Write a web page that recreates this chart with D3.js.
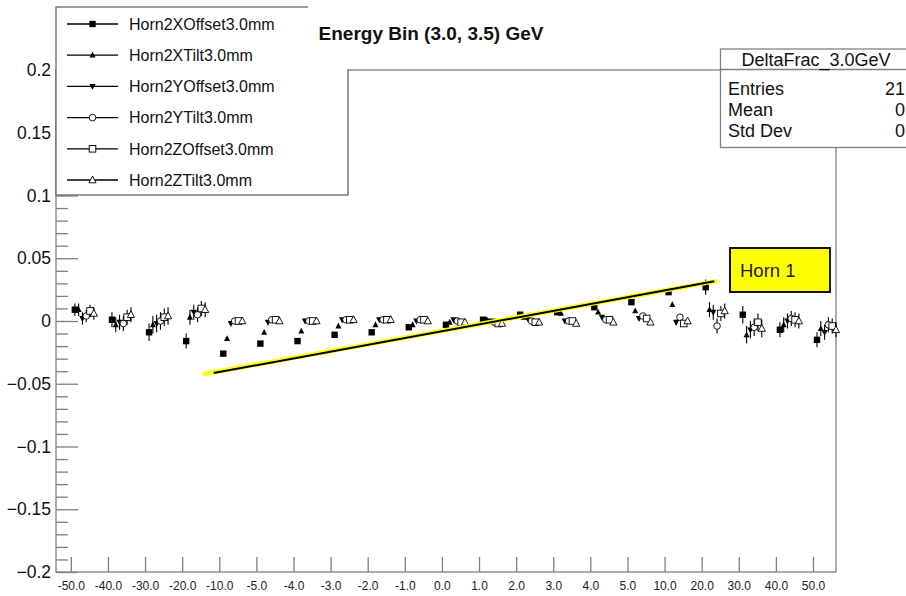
<!DOCTYPE html>
<html>
<head>
<meta charset="utf-8">
<script src="https://cdn.jsdelivr.net/npm/d3@7"></script>
<style>
  html, body { margin: 0; padding: 0; background: #fff; }
  svg { display: block; font-family: "Liberation Sans", Arial, Helvetica, sans-serif; }
</style>
</head>
<body>
<svg id="chart" width="906" height="596"></svg>
<script>
// Bin labels along the horizontal axis (shift values of the Horn 2 variations)
const categories = ["-50.0","-40.0","-30.0","-20.0","-10.0","-5.0","-4.0","-3.0","-2.0","-1.0",
                    "0.0","1.0","2.0","3.0","4.0","5.0","10.0","20.0","30.0","40.0","50.0"];

const seriesNames = ["Horn2XOffset3.0mm","Horn2XTilt3.0mm","Horn2YOffset3.0mm",
                     "Horn2YTilt3.0mm","Horn2ZOffset3.0mm","Horn2ZTilt3.0mm"];

// Fractional change per bin, one array per systematic
const xOffset = [0.009, 0.001, -0.009, -0.016, -0.026, -0.018, -0.016, -0.011, -0.009, -0.005,
                 -0.003, 0.001, 0.005, 0.007, 0.011, 0.015, 0.023, 0.027, 0.005, -0.007, -0.015];
const xTilt   = [0.009, -0.003, -0.003, 0.003, -0.014, -0.009, -0.008, -0.004, -0.003, -0.003,
                 -0.001, 0.001, 0.003, 0.006, 0.007, 0.008, 0.013, 0.009, -0.011, -0.003, -0.006];
const yOffset = [0.002, -0.001, -0.002, 0.007, -0.002, -0.001, 0.000, 0.001, 0.001, 0.000,
                 0.001, 0.000, 0.002, 0.000, 0.003, 0.002, -0.001, 0.007, -0.007, 0.000, -0.009];
const yTilt   = [0.004, -0.002, 0.000, 0.005, 0.000, 0.001, 0.000, 0.001, 0.001, 0.001,
                 0.000, -0.001, 0.000, 0.000, 0.001, 0.004, 0.003, -0.004, -0.005, 0.002, -0.003];
const zOffset = [0.008, 0.003, 0.003, 0.010, 0.000, 0.001, 0.000, 0.001, 0.001, 0.001,
                 -0.001, -0.002, -0.001, 0.000, 0.001, 0.002, -0.002, 0.006, -0.001, 0.001, -0.004];
const zTilt   = [0.006, 0.005, 0.004, 0.009, 0.000, 0.000, 0.000, 0.001, 0.001, 0.000,
                 -0.001, -0.002, -0.001, -0.002, -0.001, -0.001, 0.000, 0.008, -0.006, 0.000, -0.007];

// Statistical uncertainty per bin (shared by all systematics)
const binErrors = [0.005, 0.006, 0.007, 0.006, 0.001, 0.001, 0.001, 0.001, 0.001, 0.001,
                   0.001, 0.001, 0.001, 0.001, 0.001, 0.001, 0.002, 0.006, 0.007, 0.006, 0.006];

const yTicks = [-0.2, -0.15, -0.1, -0.05, 0, 0.05, 0.1, 0.15, 0.2];

// Trend line annotated "Horn 1" (bin index, value)
const hornTrendYellow = [[3.55, -0.0425], [17.42, 0.0320]];
const hornTrendBlack  = [[3.85, -0.0415], [17.34, 0.0316]];

const statsRows = [["Entries", "21"], ["Mean", "0"], ["Std Dev", "0"]];

const allSeries = [xOffset, xTilt, yOffset, yTilt, zOffset, zTilt];
const markerKinds = ["square-filled", "triangle-filled", "triangledown-filled",
                     "circle-open", "square-open", "triangle-open"];

const svg = d3.select("#chart");
const frame = {left: 56, right: 836, top: 70, bottom: 572};

const x = d3.scaleLinear().domain([-0.4, 20.62]).range([frame.left, frame.right]);
const y = d3.scaleLinear().domain([-0.2, 0.2]).range([frame.bottom, frame.top]);

const frameColor = "#808080";

// Frame
svg.append("rect")
  .attr("x", frame.left).attr("y", frame.top)
  .attr("width", frame.right - frame.left).attr("height", frame.bottom - frame.top)
  .attr("fill", "none").attr("stroke", frameColor).attr("stroke-width", 1.3);

// Y axis: major ticks + labels, minor ticks every 0.01
const yAxis = svg.append("g").attr("transform", `translate(${frame.left},0)`)
  .call(d3.axisLeft(y).tickValues(yTicks).tickSize(-22).tickPadding(5)
        .tickFormat(d3.format("~g")));
yAxis.select(".domain").remove();
yAxis.selectAll(".tick line").attr("stroke", frameColor).attr("stroke-width", 1.3);
yAxis.selectAll(".tick text").attr("font-size", 17.5).attr("fill", "#111");

const minorVals = d3.range(-20, 21).map(k => k / 100).filter(v => Math.abs(Math.round(v * 100) % 5) !== 0);
const yMinor = svg.append("g").attr("transform", `translate(${frame.left},0)`)
  .call(d3.axisLeft(y).tickValues(minorVals).tickSize(-12).tickFormat(""));
yMinor.select(".domain").remove();
yMinor.selectAll(".tick line").attr("stroke", frameColor).attr("stroke-width", 1.3);

// X axis with bin labels
const xAxis = svg.append("g").attr("transform", `translate(0,${frame.bottom})`)
  .call(d3.axisBottom(x).tickValues(d3.range(categories.length)).tickSize(-15).tickPadding(9.5)
        .tickFormat(i => categories[i]));
xAxis.select(".domain").remove();
xAxis.selectAll(".tick line").attr("stroke", frameColor).attr("stroke-width", 1.3);
xAxis.selectAll(".tick text").attr("font-size", 12).attr("fill", "#222");

// Marker drawing helper
function drawMarker(g, kind, cx, cy) {
  const col = "#000";
  if (kind === "square-filled") {
    g.append("rect").attr("x", cx - 3.2).attr("y", cy - 3.2).attr("width", 6.4).attr("height", 6.4).attr("fill", col);
  } else if (kind === "triangle-filled") {
    g.append("path").attr("d", `M${cx},${cy - 3.4}L${cx + 3},${cy + 2.4}L${cx - 3},${cy + 2.4}Z`).attr("fill", col);
  } else if (kind === "triangledown-filled") {
    g.append("path").attr("d", `M${cx},${cy + 3.4}L${cx + 3.2},${cy - 2.4}L${cx - 3.2},${cy - 2.4}Z`).attr("fill", col);
  } else if (kind === "circle-open") {
    g.append("circle").attr("cx", cx).attr("cy", cy).attr("r", 3.3).attr("fill", "#fff").attr("stroke", col).attr("stroke-width", 0.9);
  } else if (kind === "square-open") {
    g.append("rect").attr("x", cx - 3.3).attr("y", cy - 3.3).attr("width", 6.6).attr("height", 6.6).attr("fill", "#fff").attr("stroke", col).attr("stroke-width", 0.9);
  } else if (kind === "triangle-open") {
    g.append("path").attr("d", `M${cx},${cy - 4}L${cx + 3.6},${cy + 2.8}L${cx - 3.6},${cy + 2.8}Z`).attr("fill", "#fff").attr("stroke", col).attr("stroke-width", 0.9);
  }
}

// Data points with error bars; each systematic sits at its own offset inside the bin
const pts = svg.append("g");
allSeries.forEach((vals, s) => {
  const g = pts.append("g");
  vals.forEach((v, i) => {
    const cx = x(i) + 4 + 3.8 * s;
    g.append("line")
      .attr("x1", cx).attr("x2", cx)
      .attr("y1", y(v - binErrors[i])).attr("y2", y(v + binErrors[i]))
      .attr("stroke", "#000").attr("stroke-width", 1.1);
    drawMarker(g, markerKinds[s], cx, y(v));
  });
});

// "Horn 1" trend line
const lineGen = d3.line().x(d => x(d[0])).y(d => y(d[1]));
svg.append("path").attr("d", lineGen(hornTrendYellow)).attr("stroke", "#ffff00").attr("stroke-width", 4.5).attr("fill", "none");
svg.append("path").attr("d", lineGen(hornTrendBlack)).attr("stroke", "#000").attr("stroke-width", 2).attr("fill", "none");

// Annotation box
svg.append("rect").attr("x", 730).attr("y", 248).attr("width", 100).attr("height", 44)
  .attr("fill", "#ffff00").attr("stroke", "#111").attr("stroke-width", 2);
svg.append("text").attr("x", 740).attr("y", 277).attr("font-size", 18.5).attr("fill", "#222").text("Horn 1");

// Legend
const legend = svg.append("g");
legend.append("rect").attr("x", 56).attr("y", 7).attr("width", 292).attr("height", 188)
  .attr("fill", "#fff").attr("stroke", "#666").attr("stroke-width", 1.3);
seriesNames.forEach((name, s) => {
  const ly = 24 + s * 31.2;
  legend.append("line").attr("x1", 67).attr("x2", 118).attr("y1", ly).attr("y2", ly)
    .attr("stroke", "#000").attr("stroke-width", 1.3);
  drawMarker(legend, markerKinds[s], 92.5, ly);
  legend.append("text").attr("x", 129).attr("y", ly + 5.8).attr("font-size", 16).attr("fill", "#111").text(name);
});

// Title pad
svg.append("rect").attr("x", 308).attr("y", 0).attr("width", 260).attr("height", 69).attr("fill", "#fff");
svg.append("text").attr("x", 431).attr("y", 40).attr("text-anchor", "middle")
  .attr("font-size", 19).attr("font-weight", "bold").attr("fill", "#111")
  .text("Energy Bin (3.0, 3.5) GeV");

// Statistics box
const stats = svg.append("g");
stats.append("rect").attr("x", 720.5).attr("y", 49).attr("width", 200).attr("height", 98.5)
  .attr("fill", "#fff").attr("stroke", "#808080").attr("stroke-width", 1.3);
stats.append("line").attr("x1", 720.5).attr("x2", 920).attr("y1", 69.5).attr("y2", 69.5)
  .attr("stroke", "#808080").attr("stroke-width", 1.3);
stats.append("text").attr("x", 816).attr("y", 65.5).attr("text-anchor", "middle")
  .attr("font-size", 18).attr("fill", "#111").text("DeltaFrac_3.0GeV");
statsRows.forEach((r, k) => {
  const ty = 95 + k * 21;
  stats.append("text").attr("x", 728).attr("y", ty).attr("font-size", 18).attr("fill", "#111").text(r[0]);
  stats.append("text").attr("x", 905).attr("y", ty).attr("text-anchor", "end").attr("font-size", 18).attr("fill", "#111").text(r[1]);
});
</script>
</body>
</html>
